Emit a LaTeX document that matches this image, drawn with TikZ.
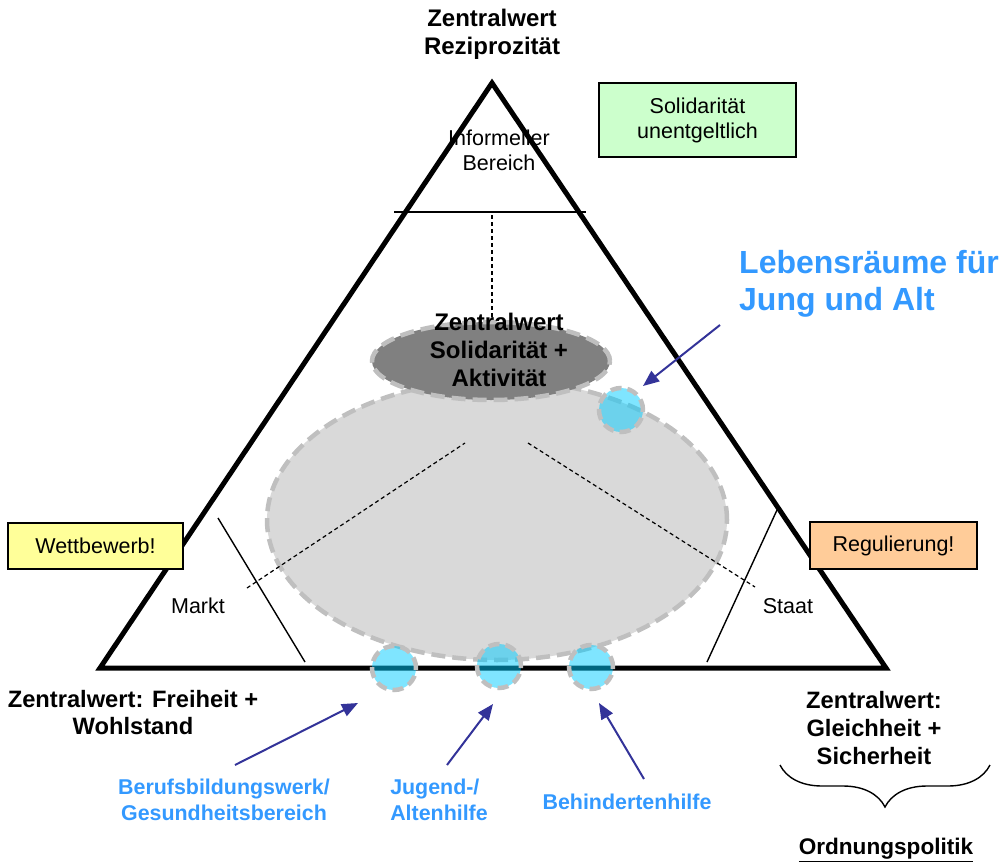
\documentclass[tikz,border=0pt]{standalone}
\usepackage{fontspec}
\setmainfont{Liberation Sans}
\usetikzlibrary{shapes.geometric,arrows.meta,decorations.pathreplacing}
\definecolor{ellgray}{HTML}{D9D9D9}
\definecolor{darkell}{HTML}{808080}
\definecolor{dashgray}{HTML}{BFBFBF}
\definecolor{cyanc}{HTML}{00CCFF}
\definecolor{bluetxt}{HTML}{3399FF}
\definecolor{arrowblue}{HTML}{333399}
\definecolor{greenbox}{HTML}{CCFFCC}
\definecolor{yellowbox}{HTML}{FFFF99}
\definecolor{orangebox}{HTML}{FFCC99}
\tikzset{
  bigtxt/.style={font=\fontsize{24}{28}\selectfont\bfseries, align=center, inner sep=0pt},
  plaintxt/.style={font=\fontsize{21.5}{25}\selectfont, align=center, inner sep=0pt},
  bluelbl/.style={font=\fontsize{21.4}{26}\selectfont\bfseries, text=bluetxt, align=center, inner sep=0pt},
  colbox/.style={draw=black, line width=1.2pt, font=\fontsize{21.5}{25}\selectfont, align=center, inner sep=0pt},
  dashedge/.style={draw=dashgray, line width=4.5pt, dash pattern=on 14pt off 7pt},
  smallcirc/.style={circle, minimum size=44pt, inner sep=0pt, dashedge, dash pattern=on 11pt off 6pt, fill=cyanc, fill opacity=0.5, draw opacity=1},
  bluearrow/.style={draw=arrowblue, line width=2pt, -{Triangle[length=16pt,width=13pt]}},
  thinline/.style={line width=1.4pt},
  dotline/.style={line width=1.2pt, dash pattern=on 4pt off 3pt},
}
\begin{document}
\begin{tikzpicture}[x=1pt,y=-1pt]
\useasboundingbox (0,0) rectangle (999,862);
% big light ellipse
\node[ellipse, minimum width=460pt, minimum height=280pt, fill=ellgray, dashedge] (bigell) at (497,520) {};
% triangle
\coordinate (apex) at (492,83);
\coordinate (bl) at (100,668);
\coordinate (br) at (886,668);
\draw[line width=5pt, line join=miter] (apex) -- (br) -- (bl) -- cycle;
% inner lines
\coordinate (t1) at (394,212); \coordinate (t2) at (586,212);
\draw[thinline] (t1) -- (t2);
\coordinate (l1) at (218,518); \coordinate (l2) at (305,662);
\draw[thinline] (l1) -- (l2);
\coordinate (r1) at (777,510); \coordinate (r2) at (707,662);
\draw[thinline] (r1) -- (r2);
% dotted lines
\coordinate (v1) at (492,215); \coordinate (v2) at (492,318);
\draw[dotline] (v1) -- (v2);
\coordinate (dl1) at (247,588); \coordinate (dl2) at (465,443);
\draw[dotline] (dl1) -- (dl2);
\coordinate (dr1) at (528,443); \coordinate (dr2) at (755,587);
\draw[dotline] (dr1) -- (dr2);
% dark ellipse
\node[ellipse, minimum width=238pt, minimum height=78pt, fill=darkell, dashedge] (darkell) at (491,361) {};
\node[bigtxt] (soltxt) at (499,350) {Zentralwert\\Solidarität +\\Aktivität};
% small circles
\node[smallcirc] (c0) at (621,410) {};
\node[smallcirc] (c1) at (394,668) {};
\node[smallcirc] (c2) at (499,666) {};
\node[smallcirc] (c3) at (591,667) {};
% texts
\node[bigtxt] (top) at (492,34) {Zentralwert\\Reziprozität};
\node[plaintxt] (inf) at (499,150) {Informeller\\Bereich};
\node[colbox, fill=greenbox, minimum width=197pt, minimum height=74pt] (green) at (697.5,120) {Solidarität\\unentgeltlich};
\node[colbox, fill=yellowbox, minimum width=175pt, minimum height=46pt] (yellow) at (95.5,546) {Wettbewerb!};
\node[colbox, fill=orangebox, minimum width=167pt, minimum height=47pt] (orange) at (893.5,545.5) {Regulierung!};
\node[plaintxt] (markt) at (198,606) {Markt};
\node[plaintxt] (staat) at (788,606) {Staat};
\node[font=\fontsize{32}{37}\selectfont\bfseries, text=bluetxt, align=left, inner sep=0pt, anchor=west] (leb) at (739,284) {Lebensräume für\\Jung und Alt};
\node[bigtxt, font=\fontsize{23.7}{27}\selectfont\bfseries] (frei) at (133,713) {Zentralwert: Freiheit +\\Wohlstand};
\node[bigtxt, font=\fontsize{23.7}{28}\selectfont\bfseries] (gleich) at (874,728) {Zentralwert:\\Gleichheit +\\Sicherheit};
\node[font=\fontsize{22.6}{27}\selectfont\bfseries, inner sep=0pt] (ord) at (886,850) {\underline{Ordnungspolitik}};
\node[bluelbl] (beruf) at (224,800) {Berufsbildungswerk/\\Gesundheitsbereich};
\node[bluelbl, align=left] (jug) at (439,800) {Jugend-/\\Altenhilfe};
\node[bluelbl] (beh) at (627,802) {Behindertenhilfe};
% brace
\coordinate (b1) at (780,765); \coordinate (b2) at (990,765);
\draw[line width=1.4pt, decorate, decoration={brace, amplitude=42pt, mirror}] (b1) -- (b2);
% arrows
\coordinate (a0s) at (720,325); \coordinate (a0e) at (643,386);
\draw[bluearrow] (a0s) -- (a0e);
\coordinate (a1s) at (235,765); \coordinate (a1e) at (358,703);
\draw[bluearrow] (a1s) -- (a1e);
\coordinate (a2s) at (447,765); \coordinate (a2e) at (493,704);
\draw[bluearrow] (a2s) -- (a2e);
\coordinate (a3s) at (644,779); \coordinate (a3e) at (599,703);
\draw[bluearrow] (a3s) -- (a3e);
\end{tikzpicture}
\end{document}
